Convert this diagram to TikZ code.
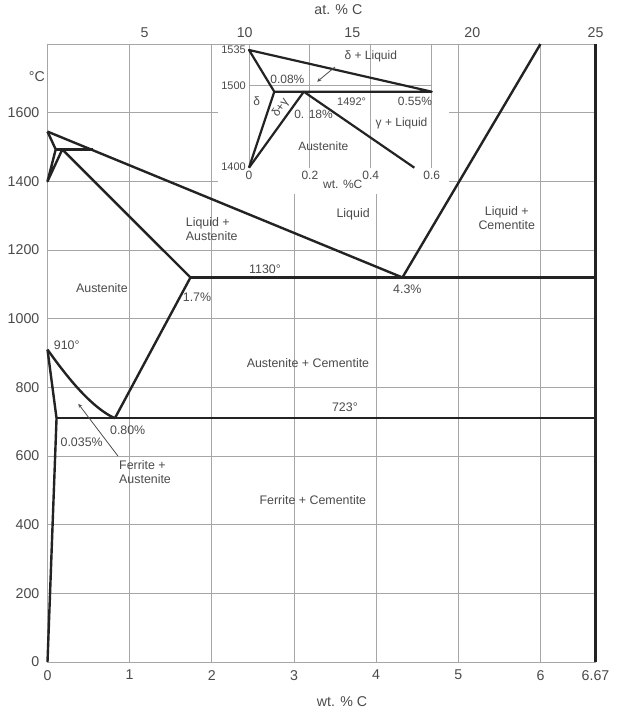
\documentclass[tikz,border=0pt]{standalone}
\usepackage{fontspec}
\setmainfont{Liberation Sans}
\usepackage{tikz}
\usetikzlibrary{positioning}
\usepackage{xcolor}
\definecolor{gridgray}{HTML}{A6A6A6}
\definecolor{labelgray}{HTML}{4A4A4A}
\definecolor{linedark}{HTML}{232323}

\begin{document}
\begin{tikzpicture}[x=82.16pt, y=0.3433pt, >=stealth, every node/.style={font=\fontsize{12.4}{14.6}\selectfont, text=labelgray, inner sep=1pt}]
\tikzstyle{gridline}=[draw=gridgray, line width=0.9pt]
\tikzstyle{phaseline}=[draw=linedark, line width=2.4pt, line join=round]
\tikzstyle{ticklbl}=[font=\fontsize{14.2}{16}\selectfont]
\tikzstyle{insetlbl}=[font=\fontsize{12}{13.5}\selectfont, inner sep=0.5pt]
\tikzstyle{insetnum}=[font=\fontsize{11}{13}\selectfont]
\tikzstyle{pointer}=[->, draw=black!70, line width=0.8pt]
\useasboundingbox (-47.5pt,-55pt) rectangle (591.5pt,662pt);
\foreach \w in {1,...,6} \draw[gridline] (\w,0) -- (\w,1800);
\foreach \tc in {200,400,...,1600} \draw[gridline] (0,\tc) -- (6.67,\tc);
\draw[gridline] (0,0) rectangle (6.67,1800);
\foreach \tc in {0,200,...,1600} \node[ticklbl, left=7pt] (y\tc) at (0,\tc) {\tc};
\foreach \w in {0,...,6} \node[ticklbl, below=7pt] (x\w) at (\w,0) {\w};
\node[ticklbl, below=7pt] (x667) at (6.67,0) {6.67};
\node[ticklbl] (wtaxis) at (3.585,-116) {wt. \% C};
\node[ticklbl] (ataxis) at (3.54,1899) {at. \% C};
\foreach \w/\a in {1.18/5,2.4/10,3.71/15,5.17/20,6.67/25} \node[ticklbl] (at\a) at (\w,1834) {\a};
\node[ticklbl] (degc) at (-0.13,1704) {°C};
% inset
\fill[white] (170.5pt,468pt) rectangle (401.5pt,617.4pt);
\begin{scope}[shift={(201.5pt,494.3pt)}, x=304.5pt, y=1pt]
\foreach \w in {0,0.2,0.4,0.6} \draw[gridline] (\w,0) -- (\w,123.7);
\draw[gridline] (0,82.4) -- (0.6,82.4);
\draw[phaseline, line width=2.2pt] (0,0) -- (0.083,76) -- (0,117.7) -- (0.6,76) -- (0.083,76);
\draw[phaseline, line width=2.2pt] (0,0) -- (0.18,76) -- (0.543,0);
\node[insetnum, left=2pt] (i1535) at (0,117.7) {1535};
\node[insetnum, left=2pt] (i1500) at (0,82.4) {1500};
\node[insetnum, left=2pt] (i1400) at (0,1) {1400};
\foreach \w [count=\k] in {0,0.2,0.4,0.6} \node[insetlbl] (ix\k) at (\w,-8) {\w};
\node[insetlbl] (iwt) at (0.308,-16.3) {wt. \%C};
\node[insetlbl] (idl) at (0.4,111) {δ + Liquid};
\node[insetlbl] (i008) at (0.126,88) {0.08\%};
\node[insetlbl] (idelta) at (0.025,66) {δ};
\node[insetlbl, rotate=55] (idg) at (0.104,60) {δ+γ};
\node[insetlbl] (i018) at (0.212,53.7) {0. 18\%};
\node[insetnum] (i1492) at (0.337,66) {1492°};
\node[insetlbl] (i055) at (0.545,66) {0.55\%};
\node[insetlbl] (igl) at (0.501,44.4) {γ + Liquid};
\node[insetlbl] (iaus) at (0.244,21) {Austenite};
\coordinate (idlend) at (0.224,86);
\draw[pointer] ([shift={(-9pt,-4pt)}]idl.south west) -- (idlend);
\end{scope}
% main phase boundaries
\draw[phaseline] (0,1545) -- (4.32,1120) -- (6.0,1800);
\draw[phaseline] (0,1545) -- (0.1,1493) -- (0,1400) -- (0.18,1493) -- (1.74,1120) -- (0.82,710);
\draw[phaseline] (0.1,1493) -- (0.55,1493);
\draw[phaseline] (1.74,1120) -- (6.67,1120);
\draw[phaseline] (6.67,0) -- (6.67,1800);
\draw[phaseline] (0,910) .. controls (0.18,850) and (0.5,745) .. (0.82,710);
\draw[phaseline] (0,910) -- (0.11,710) -- (0,0);
\draw[phaseline] (0.11,710) -- (6.67,710);
\node (liq) at (3.72,1305) {Liquid};
\node[anchor=west, align=left] (liqaus) at (1.67,1261) {Liquid +\\Austenite};
\node[align=center] (liqcem) at (5.59,1293) {Liquid +\\Cementite};
\node (aus) at (0.663,1089) {Austenite};
\node (t1130) at (2.647,1144) {1130°};
\node (c17) at (1.82,1063) {1.7\%};
\node (c43) at (4.38,1086) {4.3\%};
\node (t910) at (0.234,923) {910°};
\node (c080) at (0.976,676) {0.80\%};
\node (c0035) at (0.416,640) {0.035\%};
\node[anchor=west, align=left] (ferraus) at (0.858,553) {Ferrite +\\Austenite};
\node (auscem) at (3.17,871) {Austenite + Cementite};
\node (t723) at (3.62,743) {723°};
\node (ferrcem) at (3.23,472) {Ferrite + Cementite};
\coordinate (faend) at (0.375,752);
\draw[pointer] ([yshift=3pt]ferraus.north west) -- (faend);
\end{tikzpicture}
\end{document}
